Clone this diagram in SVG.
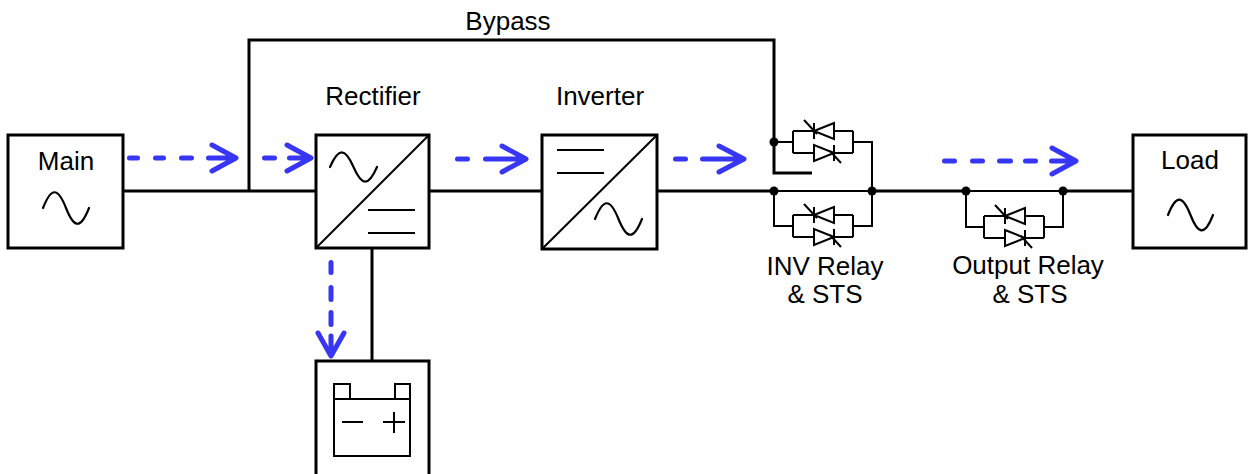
<svg xmlns="http://www.w3.org/2000/svg" xmlns:xlink="http://www.w3.org/1999/xlink" width="1249" height="474" viewBox="0 0 1249 474">
<style>
.box{fill:#fff;stroke:#000;stroke-width:3}
.ln{fill:none;stroke:#000;stroke-width:3}
.thin{fill:none;stroke:#000;stroke-width:2}
.sym{fill:none;stroke:#000;stroke-width:2.2;stroke-linecap:round}
.flow{fill:none;stroke:#3636f4;stroke-width:5;stroke-linecap:round;stroke-linejoin:round}
.lbl{font-family:"Liberation Sans",Arial,sans-serif;font-size:26px;fill:#000;text-anchor:middle}
.dot{fill:#000}
</style>
<defs>
<g id="pair">
<path class="thin" d="M0,-11 H21 M41,-11 H60 M0,11 H21 M41,11 H60 M0,-11 V11 M60,-11 V11"/>
<path d="M21,-11 L41,-19 L41,-3 Z" fill="#fff" stroke="#000" stroke-width="2"/>
<path class="thin" d="M21,-19 V-3 M11,-22 L24,-8"/>
<path d="M21,3 L21,19 L41,11 Z" fill="#fff" stroke="#000" stroke-width="2"/>
<path class="thin" d="M41,3 V19 M37,9 L48,21"/>
</g>
</defs>

<g id="connectors">
<path class="ln" d="M123,191 H316 M429,191 H542 M657,191 H774 M872,191 H966 M1063,191 H1133"/>
<path class="thin" d="M774,191 H872 M966,191 H1063"/>
<path class="ln" d="M249,191 V40 H774 V173 H812"/>
<path class="thin" d="M774,142 H793 M853,142 H872 V191 M774,191 V226 H793 M853,226 H872 V191 M966,191 V227 H984 M1044,227 H1063 V191"/>
<path class="ln" d="M372,248 V361"/>
<circle class="dot" cx="774" cy="142" r="4.5"/>
<circle class="dot" cx="774" cy="191" r="4.5"/>
<circle class="dot" cx="872" cy="191" r="4.5"/>
<circle class="dot" cx="966" cy="191" r="4.5"/>
<circle class="dot" cx="1063" cy="191" r="4.5"/>
<text class="lbl" x="508" y="30">Bypass</text>
</g>

<g id="flows">
<path class="flow" d="M129.5,158 H137.5 M155.5,158 H163.5 M181.5,158 H191.5 M208.5,158 H235 M212,145 L236,158 L212,171"/>
<path class="flow" d="M264.5,158 H274.5 M289.5,158 H309 M287,145 L311,158 L287,171"/>
<path class="flow" d="M457.5,159 H467.5 M485.5,159 H524 M502,146 L526,159 L502,172"/>
<path class="flow" d="M675.5,159 H685.5 M702.5,159 H742 M719,146 L744,159 L719,172"/>
<path class="flow" d="M944.5,161 H954.5 M972.5,161 H982.5 M999.5,161 H1010.5 M1025.5,161 H1035.5 M1051.5,161 H1074 M1052,148 L1076,161 L1052,174"/>
<path class="flow" d="M331,262.5 V272.5 M331,287.5 V299.5 M331,312.5 V324.5 M331,336 V354 M318,333 L331,356 L344,333"/>
</g>

<g id="main">
<rect class="box" x="8" y="135" width="115" height="113"/>
<text class="lbl" x="66" y="170">Main</text>
<path class="sym" d="M43,208 C51.3,187 57.7,187 66,208 C74.3,229 80.7,229 89,208"/>
</g>

<g id="rectifier">
<rect class="box" x="316" y="135" width="113" height="113"/>
<path class="thin" d="M316,248 L429,135"/>
<path class="sym" d="M330,167 C338.5,147.5 345,147.5 353.5,167 C362,186.5 368.5,186.5 377,167"/>
<path class="thin" d="M368,210 H415 M368,233 H415"/>
<text class="lbl" x="373" y="105">Rectifier</text>
</g>

<g id="inverter">
<rect class="box" x="542" y="135" width="115" height="114"/>
<path class="thin" d="M542,249 L657,135"/>
<path class="thin" d="M557,150 H604 M557,173 H604"/>
<path class="sym" d="M595,219 C603.5,198 610,198 618.5,219 C627,240 633.5,240 642,219"/>
<text class="lbl" x="600" y="105">Inverter</text>
</g>

<g id="inv-relay">
<use xlink:href="#pair" href="#pair" transform="translate(793,142)"/>
<use xlink:href="#pair" href="#pair" transform="translate(793,226)"/>
<text class="lbl" x="825" y="275">INV Relay</text>
<text class="lbl" x="825" y="303">&amp; STS</text>
</g>

<g id="output-relay">
<use xlink:href="#pair" href="#pair" transform="translate(984,227)"/>
<text class="lbl" x="1028" y="274">Output Relay</text>
<text class="lbl" x="1030" y="303">&amp; STS</text>
</g>

<g id="load">
<rect class="box" x="1133" y="135" width="113" height="113"/>
<text class="lbl" x="1190" y="169">Load</text>
<path class="sym" d="M1168,215 C1176,194.5 1182.5,194.5 1190.5,215 C1198.5,235.5 1205,235.5 1213,215"/>
</g>

<g id="battery">
<rect class="box" x="316" y="361" width="113" height="120"/>
<path class="thin" d="M334,399 H410 V456 H334 Z M334,399 V384 H350 V399 M395,399 V384 H410 V399"/>
<path class="thin" d="M342,422 H363 M383,422 H405 M394,412 V433"/>
</g>
</svg>
